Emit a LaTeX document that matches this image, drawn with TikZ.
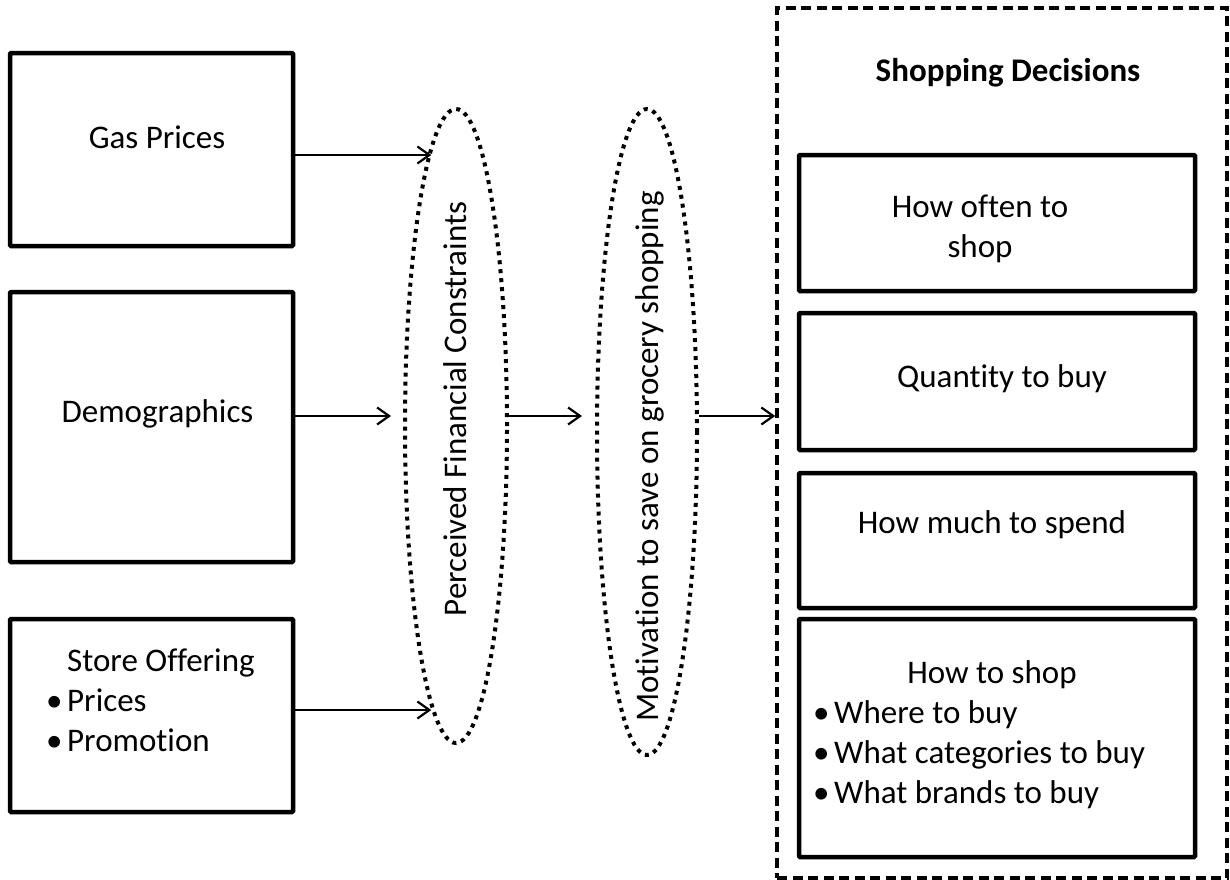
\documentclass[tikz,border=0pt]{standalone}
\usepackage{fontspec}
\setmainfont{Carlito}[Ligatures=NoCommon]
\usetikzlibrary{shapes.geometric,arrows.meta}
\begin{document}
\begin{tikzpicture}[x=1pt,y=-1pt,
  every node/.style={font=\fontsize{33}{40}\selectfont, inner sep=0pt},
  solidbox/.style={draw, line width=4.5pt, rounded corners=1pt, minimum width=#1},
  ovalbox/.style={draw, ellipse, line width=4pt, dash pattern=on 4pt off 5pt},
  groupbox/.style={draw, line width=3.5pt, dash pattern=on 10pt off 5.5pt},
  arr/.style={line width=2.2pt, -{Straight Barb[length=12pt,width=17pt]}},
  txt/.style={anchor=base},
  upright/.style={anchor=base, rotate=90}
]
\useasboundingbox (0,0) rectangle (1230,879);

% input boxes
\node[solidbox=283, minimum height=193] (gas)   at (151.5,149.5) {};
\node[solidbox=283, minimum height=270] (demo)  at (151.5,427) {};
\node[solidbox=283, minimum height=193] (store) at (151.5,715.5) {};

\node[txt] (gastxt)  at (157,148) {Gas Prices};
\node[txt] (demotxt) at (157.5,422) {Demographics};
\node[anchor=base west] (storetxt) at (46,671)
  {\begin{tabular}[t]{@{}l@{}l@{}}
   \makebox[21pt][l]{} & Store Offering\\
   \makebox[21pt][l]{•} & Prices\\
   \makebox[21pt][l]{•} & Promotion
   \end{tabular}};

% mediating constructs
\node[ovalbox, minimum width=102, minimum height=634] (ell1) at (456,426) {};
\node[ovalbox, minimum width=100, minimum height=646] (ell2) at (647,432) {};
\node[upright] (ell1txt) at (466,409) {Perceived Financial Constraints};
\node[upright] (ell2txt) at (658,456.5) {Motivation to save on grocery shopping};

% outcome group
\node[groupbox, minimum width=450, minimum height=870] (dec) at (1002,443) {};
\node[txt, font=\fontsize{33}{40}\selectfont\bfseries] (dectitle) at (1008,81) {Shopping Decisions};

\node[solidbox=396, minimum height=136] (often) at (997,223) {};
\node[solidbox=396, minimum height=137] (qty)   at (997,381.5) {};
\node[solidbox=396, minimum height=135] (spend) at (997,540.5) {};
\node[solidbox=396, minimum height=238] (how)   at (997,738) {};

\node[anchor=base, align=center] (oftentxt) at (980,257) {How often to\\shop};
\node[txt] (qtytxt)   at (1002,387) {Quantity to buy};
\node[txt] (spendtxt) at (992,533) {How much to spend};
\node[txt] (howtxt)   at (992,683) {How to shop};
\node[anchor=base west] (howlist) at (813,723)
  {\begin{tabular}[t]{@{}l@{}l@{}}
   \makebox[21pt][l]{•} & Where to buy\\
   \makebox[21pt][l]{•} & What categories to buy\\
   \makebox[21pt][l]{•} & What brands to buy
   \end{tabular}};

% connector rows
\coordinate (rowA) at (0,155);
\coordinate (rowB) at (0,416);
\coordinate (rowC) at (0,710);

\draw[arr] (gas.east |- rowA) -- (rowA -| ell1.95.6);
\draw[arr, shorten >=12pt] (demo.east |- rowB) -- (rowB -| ell1.west);
\draw[arr] (store.east |- rowC) -- (rowC -| ell1.265.4);
\draw[arr, shorten >=13pt] (rowB -| ell1.east) -- (rowB -| ell2.west);
\draw[arr] (rowB -| ell2.east) -- (rowB -| dec.west);
\end{tikzpicture}
\end{document}
